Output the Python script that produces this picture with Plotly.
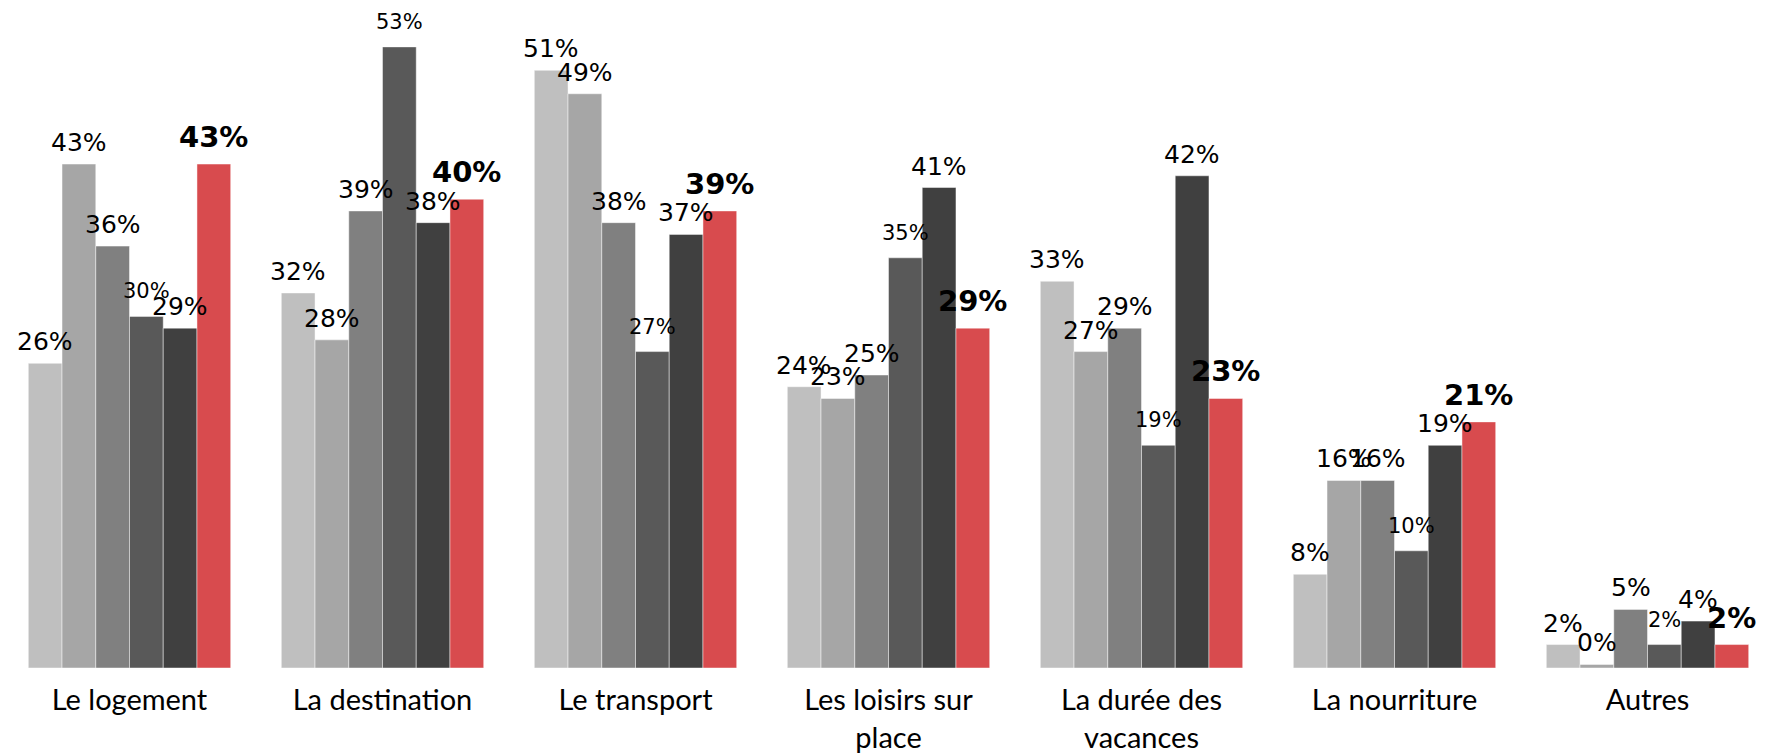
import plotly.graph_objects as go

categories = ["Le logement", "La destination", "Le transport", "Les loisirs sur<br>place",
              "La durée des<br>vacances", "La nourriture", "Autres"]
series_names = ["Série 1", "Série 2", "Série 3", "Série 4", "Série 5", "Série 6"]
values = [
    [26, 32, 51, 24, 33, 8, 2],
    [43, 28, 49, 23, 27, 16, 0.3],
    [36, 39, 38, 25, 29, 16, 5],
    [30, 53, 27, 35, 19, 10, 2],
    [29, 38, 37, 41, 42, 19, 4],
    [43, 40, 39, 29, 23, 21, 2],
]
colors = ["#BFBFBF", "#A6A6A6", "#808080", "#595959", "#404040", "#D84B4E"]
label_sizes = [25, 25, 25, 21, 25, 29]
label_bold = [False, False, False, False, False, True]
label_shift = [5, 5, 5, 11, 5, 8]

fig = go.Figure()
n_series = len(values)
group_frac = 0.8
w = group_frac / n_series

annotations = []
for j, (name, vals) in enumerate(zip(series_names, values)):
    fig.add_trace(go.Bar(
        x=list(range(len(categories))), y=vals, name=name,
        marker=dict(color=colors[j], line=dict(color="rgba(255,255,255,0.45)", width=1)),
        hoverinfo="skip",
    ))
    for i, v in enumerate(vals):
        txt = f"{v:.0f}%"
        if label_bold[j]:
            txt = f"<b>{txt}</b>"
        annotations.append(dict(
            x=i + (j - (n_series - 1) / 2) * w, y=v, xref="x", yref="y",
            text=txt, showarrow=False, yanchor="bottom", xanchor="center",
            yshift=label_shift[j],
            font=dict(family="DejaVu Sans", size=label_sizes[j], color="#000000"),
        ))

fig.update_layout(
    barmode="group", bargap=0.2, bargroupgap=0,
    width=1774, height=753,
    margin=dict(l=3, r=0, t=0, b=85),
    plot_bgcolor="white", paper_bgcolor="white",
    showlegend=False,
    annotations=annotations,
    xaxis=dict(
        tickmode="array", tickvals=list(range(len(categories))), ticktext=categories,
        range=[-0.5, len(categories) - 0.5],
        showgrid=False, showline=False, zeroline=False, ticks="",
        ticklabelstandoff=12, automargin=False,
        tickfont=dict(family="Lato", size=29, color="#000000"),
    ),
    yaxis=dict(range=[0, 57], visible=False, showgrid=False, zeroline=False,
               automargin=False),
)

fig.write_html("out.html", config={"displayModeBar": False},
               post_script="document.body.style.margin='0';")
